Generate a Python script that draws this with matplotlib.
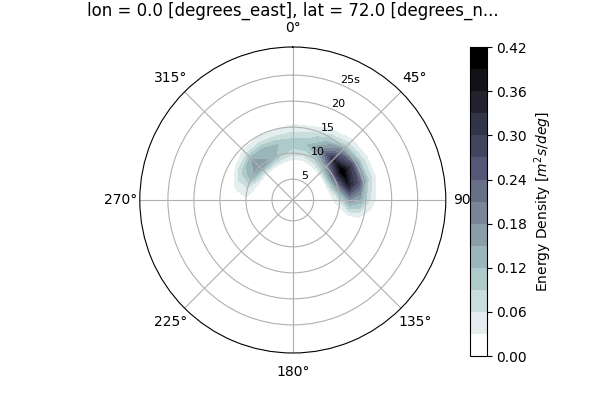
import numpy as np
import matplotlib
matplotlib.use("Agg")
import matplotlib.pyplot as plt

directions = [0,15,30,45,60,75,90,105,120,135,150,165,180,195,210,225,240,255,270,285,300,315,330,345,360]
periods = [2,4,6,8,10,12,14,16,18,20,25,30]
z = [0]*12
energy = [
 [0,0,0,0,.07,.11,.06,.02,0,0,0,0],
 [0,0,0,0,.07,.12,.07,.02,0,0,0,0],
 [0,0,0,.01,.10,.19,.12,.04,0,0,0,0],
 [0,0,0,.02,.17,.32,.21,.07,.01,0,0,0],
 [0,0,0,.03,.23,.42,.28,.09,.01,0,0,0],
 [0,0,0,.02,.17,.35,.26,.09,.01,0,0,0],
 [0,0,0,.01,.06,.17,.14,.05,0,0,0,0],
 [0,0,0,0,.01,.03,.03,.01,0,0,0,0],
 z,z,z,z,z,z,z,z,z,z,
 [0,0,0,0,.02,.01,0,0,0,0,0,0],
 [0,0,0,.01,.06,.04,.01,0,0,0,0,0],
 [0,0,0,.02,.14,.10,.02,0,0,0,0,0],
 [0,0,0,.02,.18,.15,.04,0,0,0,0,0],
 [0,0,0,.02,.15,.14,.05,0,0,0,0,0],
 [0,0,0,.01,.10,.12,.05,.01,0,0,0,0],
 [0,0,0,0,.07,.11,.06,.02,0,0,0,0],
]
levels = np.arange(0, 0.4201, 0.03)
rticks = [5,10,15,20,25]
rticklabels = ['5','10','15','20','25s']

fig = plt.figure(figsize=(6,4), dpi=100)
ax = fig.add_axes([0.233, 0.1175, 0.51, 0.765], projection='polar')
ax.set_theta_zero_location('N')
ax.set_theta_direction(-1)
T, R = np.meshgrid(np.deg2rad(directions), periods, indexing='ij')
band_colors = plt.get_cmap('bone_r')(np.linspace(0, 1, len(levels) - 1))
cf = ax.contourf(T, R, np.array(energy), levels=levels, colors=band_colors)
ax.set_rlim(1, 30.4)
ax.set_rticks(rticks)
ax.set_yticklabels(rticklabels, fontsize=8)
ax.set_rlabel_position(22.5)
ax.set_thetagrids(np.arange(0,360,45), [f'{d}°' for d in range(0,360,45)])
ax.grid(True, color='#b0b0b0')
fig.text(0.488, 0.995, 'lon = 0.0 [degrees_east], lat = 72.0 [degrees_n...',
         ha='center', va='top', fontsize=12)
cax = fig.add_axes([0.783, 0.11, 0.028, 0.772])
cb = fig.colorbar(cf, cax=cax, ticks=np.arange(0,0.4201,0.06))
cb.set_label('Energy Density [$m^2s/deg$]')
fig.savefig('out.png', dpi=100)
